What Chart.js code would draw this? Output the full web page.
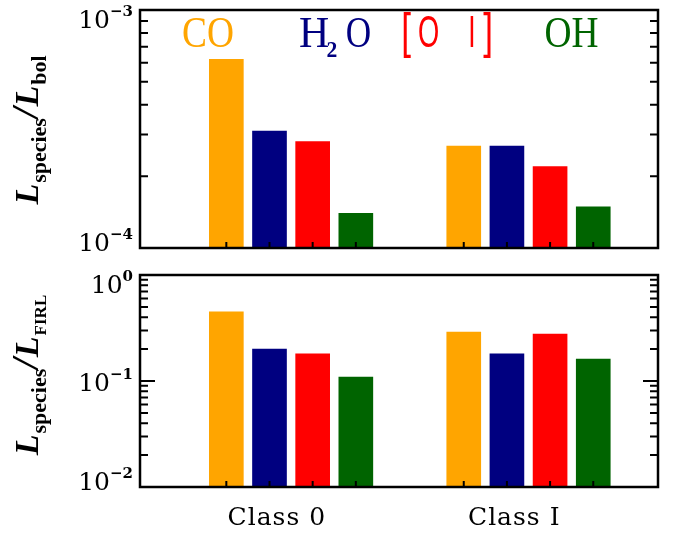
<!DOCTYPE html>
<html><head><meta charset="utf-8">
<script src="https://cdn.jsdelivr.net/npm/chart.js@4.4.1/dist/chart.umd.min.js"></script>
<style>
html,body{margin:0;padding:0;background:#fff;width:676px;height:533px;overflow:hidden}
canvas{position:absolute;left:0}
#top{top:0}
#bot{top:260px}
</style></head><body>
<canvas id="top" width="676" height="260"></canvas>
<canvas id="bot" width="676" height="273"></canvas>
<script>
// ---- data ----
const categories = ['Class 0', 'Class I'];
const species = ['CO', 'H2O', '[O I]', 'OH'];
const coBol  = [6.2e-4, 2.68e-4];
const h2oBol = [3.1e-4, 2.68e-4];
const oiBol  = [2.8e-4, 2.2e-4];
const ohBol  = [1.4e-4, 1.49e-4];
const coFirl  = [0.45, 0.29];
const h2oFirl = [0.20, 0.18];
const oiFirl  = [0.18, 0.277];
const ohFirl  = [0.109, 0.161];
const bolRange  = [1e-4, 1e-3];
const firlRange = [1e-2, 1];

// ---- layout / style ----
const speciesColors = ['#FFA500', '#000080', '#FF0000', '#006400'];
const groupCenters = [3.5, 9];
const slotOffsets = [-1.5, -0.5, 0.5, 1.5];
const labelShift = -0.33;

function makeDatasets(series) {
  return series.map((vals, j) => ({
    label: species[j],
    data: vals.map((v, i) => ({x: groupCenters[i] + slotOffsets[j], y: v})),
    backgroundColor: speciesColors[j],
    borderWidth: 0,
    grouped: false,
    barThickness: 34
  }));
}

function drawYTitle(ctx, xBase, yCenter, sub, subFont) {
  const big = 'italic bold 34px "Liberation Serif"';
  const parts = [
    {t: 'L', f: big, dy: 0, gap: 1},
    {t: 'species', f: 'bold 22px "Liberation Serif"', dy: 8, gap: 0},
    {t: '/', f: 'italic bold 38px "Liberation Serif"', dy: 0, gap: 1},
    {t: 'L', f: big, dy: 0, gap: 1},
    {t: sub, f: subFont, dy: 8, gap: 0}
  ];
  ctx.save();
  ctx.fillStyle = '#000';
  let total = 0;
  parts.forEach(p => { ctx.font = p.f; p.w = ctx.measureText(p.t).width + p.gap; total += p.w; });
  ctx.translate(xBase, yCenter);
  ctx.rotate(-Math.PI / 2);
  ctx.textBaseline = 'alphabetic';
  let u = -total / 2;
  parts.forEach(p => { ctx.font = p.f; ctx.fillText(p.t, u, p.dy); u += p.w; });
  ctx.restore();
}

function drawScaled(ctx, text, font, cx, baseline, sx, color) {
  ctx.save();
  ctx.font = font; ctx.fillStyle = color;
  ctx.translate(cx, baseline); ctx.scale(sx, 1);
  ctx.textAlign = 'center'; ctx.textBaseline = 'alphabetic';
  ctx.fillText(text, 0, 0);
  ctx.restore();
}

const framePlugin = {
  id: 'frame',
  afterDatasetsDraw(chart, args, opts) {
    const {ctx, chartArea: a, scales: {x, y}} = chart;
    ctx.save();
    ctx.strokeStyle = '#000';
    // y ticks (log, inward, both sides)
    ctx.lineWidth = 2;
    const d0 = Math.round(Math.log10(y.min)), d1 = Math.round(Math.log10(y.max));
    for (let d = d0; d <= d1; d++) {
      for (let m = 1; m <= 9; m++) {
        const v = m * Math.pow(10, d);
        if (v > y.max * 1.0001) break;
        const py = y.getPixelForValue(v);
        const len = m === 1 ? 15 : 8;
        ctx.beginPath();
        ctx.moveTo(a.left, py); ctx.lineTo(a.left + len, py);
        ctx.moveTo(a.right, py); ctx.lineTo(a.right - len, py);
        ctx.stroke();
      }
    }
    // x ticks at bar centres
    chart.data.datasets.forEach((ds, i) => {
      chart.getDatasetMeta(i).data.forEach(bar => {
        ctx.beginPath();
        ctx.moveTo(bar.x, a.bottom); ctx.lineTo(bar.x, a.bottom - 6);
        ctx.stroke();
      });
    });
    // frame
    ctx.lineWidth = 2.5;
    ctx.strokeRect(a.left, a.top, a.right - a.left, a.bottom - a.top);
    // y tick labels 10^n
    ctx.fillStyle = '#000';
    ctx.textBaseline = 'alphabetic';
    for (let d = d0; d <= d1; d++) {
      const py = y.getPixelForValue(Math.pow(10, d));
      let base = py + 10;
      base = Math.max(base, a.top + 18);
      base = Math.min(base, a.bottom + 3);
      const sup = d < 0 ? '\u2212' + Math.abs(d) : String(d);
      ctx.font = 'bold 15px "DejaVu Serif"';
      const sw = ctx.measureText(sup).width;
      const right = a.left - 7;
      ctx.textAlign = 'left';
      ctx.fillText(sup, right - sw, base - 12);
      ctx.font = '25px "DejaVu Serif"';
      ctx.textAlign = 'right';
      ctx.fillText('10', right - sw, base);
    }
    ctx.restore();
    // y title
    drawYTitle(ctx, 38, opts.titleCenter, opts.sub, opts.subFont);
    if (opts.legend) {
      const sf = '44px "Liberation Serif"';
      drawScaled(ctx, 'CO', sf, 208, 47, 0.85, speciesColors[0]);
      drawScaled(ctx, 'H', sf, 314, 47, 0.95, speciesColors[1]);
      drawScaled(ctx, '2', 'bold 24px "Liberation Serif"', 332, 57, 0.9, speciesColors[1]);
      drawScaled(ctx, 'O', sf, 358.5, 47, 0.8, speciesColors[1]);
      const bf = '50px "Liberation Sans"', of = '44px "Liberation Sans"';
      drawScaled(ctx, '[', bf, 406, 48, 0.7, speciesColors[2]);
      drawScaled(ctx, 'O', of, 428.5, 47, 0.62, speciesColors[2]);
      drawScaled(ctx, 'I', of, 472, 47, 0.6, speciesColors[2]);
      drawScaled(ctx, ']', bf, 488, 48, 0.7, speciesColors[2]);
      drawScaled(ctx, 'OH', sf, 571.5, 47, 0.85, speciesColors[3]);
    }
    if (opts.xLabels) {
      ctx.save();
      ctx.font = '25px "DejaVu Serif"';
      ctx.fillStyle = '#000';
      ctx.textAlign = 'center';
      ctx.textBaseline = 'alphabetic';
      if ('letterSpacing' in ctx) ctx.letterSpacing = '1px';
      categories.forEach((c, i) => {
        const px = x.getPixelForValue(groupCenters[i] + labelShift);
        ctx.fillText(c, px, a.bottom + 38);
      });
      ctx.restore();
    }
  }
};

function makeChart(id, series, range, pad, frameOpts) {
  return new Chart(document.getElementById(id), {
    type: 'bar',
    data: {datasets: makeDatasets(series)},
    options: {
      responsive: false,
      animation: false,
      layout: {padding: pad},
      plugins: {legend: {display: false}, tooltip: {enabled: false}, frame: frameOpts},
      scales: {
        x: {type: 'linear', display: false, offset: false, min: 0, max: 12},
        y: {type: 'logarithmic', display: false, min: range[0], max: range[1]}
      }
    },
    plugins: [framePlugin]
  });
}

makeChart('top', [coBol, h2oBol, oiBol, ohBol], bolRange,
  {left: 140, right: 18, top: 10, bottom: 12},
  {titleCenter: 130, sub: 'bol', subFont: 'bold 22px "Liberation Serif"', legend: true});
makeChart('bot', [coFirl, h2oFirl, oiFirl, ohFirl], firlRange,
  {left: 140, right: 18, top: 15, bottom: 46},
  {titleCenter: 115, sub: 'FIRL', subFont: 'bold 17px "Liberation Serif"', xLabels: true});
</script>
</body></html>
